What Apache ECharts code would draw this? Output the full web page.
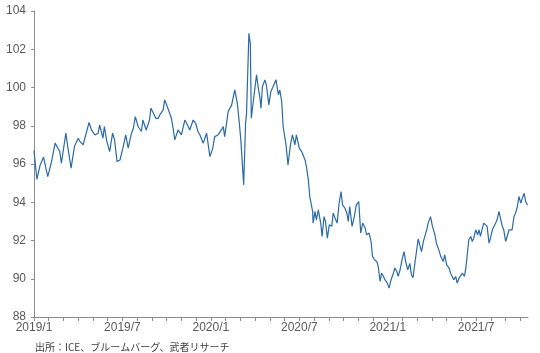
<!DOCTYPE html>
<html>
<head>
<meta charset="utf-8">
<script src="https://cdn.jsdelivr.net/npm/echarts@6/dist/echarts.min.js"></script>
<style>
html,body{margin:0;padding:0;background:#fff;}
#c{width:540px;height:353px;}
</style>
</head>
<body>
<div id="c"></div>
<script>
// Dollar index (ICE), approximate readings from the reference picture
const dates = [
'2019-01-01','2019-01-07','2019-01-14','2019-01-21','2019-01-26','2019-01-30','2019-02-07','2019-02-13','2019-02-16','2019-02-22','2019-02-25',
'2019-03-06','2019-03-10','2019-03-17','2019-03-24','2019-04-01','2019-04-04','2019-04-11','2019-04-14','2019-04-23','2019-04-28',
'2019-05-05','2019-05-12','2019-05-15','2019-05-22','2019-05-25','2019-05-30','2019-06-05','2019-06-11','2019-06-15','2019-06-20','2019-06-26',
'2019-07-02','2019-07-08','2019-07-13','2019-07-20','2019-07-24','2019-07-28','2019-08-03','2019-08-10','2019-08-13','2019-08-20','2019-08-27','2019-08-30',
'2019-09-03','2019-09-09','2019-09-14','2019-09-17','2019-09-24','2019-09-27','2019-10-01','2019-10-04','2019-10-11','2019-10-14','2019-10-18','2019-10-25',
'2019-11-01','2019-11-08','2019-11-11','2019-11-15','2019-11-18','2019-11-25','2019-11-30','2019-12-05','2019-12-09','2019-12-16','2019-12-23','2019-12-30',
'2020-01-05','2020-01-09','2020-01-16','2020-01-23','2020-01-27','2020-01-30','2020-02-06','2020-02-13','2020-02-19','2020-02-24','2020-02-28',
'2020-03-02','2020-03-08','2020-03-12','2020-03-14','2020-03-19','2020-03-22','2020-03-24','2020-04-01','2020-04-04','2020-04-07','2020-04-11','2020-04-13','2020-04-16','2020-04-21','2020-04-24','2020-04-29',
'2020-05-03','2020-05-08','2020-05-14','2020-05-19','2020-05-22','2020-05-26','2020-05-29','2020-06-04','2020-06-08','2020-06-13','2020-06-17','2020-06-22','2020-06-25',
'2020-07-01','2020-07-06','2020-07-13','2020-07-16','2020-07-20','2020-07-23','2020-07-27','2020-07-29','2020-07-30',
'2020-08-03','2020-08-06','2020-08-10','2020-08-15','2020-08-18','2020-08-22','2020-08-25','2020-08-29',
'2020-09-02','2020-09-07','2020-09-10','2020-09-15','2020-09-18','2020-09-22','2020-09-26','2020-09-29',
'2020-10-04','2020-10-08','2020-10-11','2020-10-14','2020-10-19','2020-10-23','2020-10-28',
'2020-11-02','2020-11-06','2020-11-10','2020-11-15','2020-11-18','2020-11-23','2020-11-27','2020-11-30',
'2020-12-04','2020-12-09','2020-12-12','2020-12-16','2020-12-19','2020-12-23','2020-12-26','2020-12-31',
'2021-01-04','2021-01-08','2021-01-13','2021-01-16','2021-01-20','2021-01-23','2021-01-27','2021-01-31',
'2021-02-04','2021-02-07','2021-02-11','2021-02-15','2021-02-18','2021-02-21','2021-02-25','2021-02-28',
'2021-03-03','2021-03-07','2021-03-10','2021-03-14','2021-03-17','2021-03-21','2021-03-24','2021-03-29',
'2021-04-02','2021-04-07','2021-04-10','2021-04-15','2021-04-19','2021-04-24','2021-04-27',
'2021-05-01','2021-05-06','2021-05-09','2021-05-13','2021-05-16','2021-05-20','2021-05-23','2021-05-27','2021-05-31',
'2021-06-03','2021-06-07','2021-06-10','2021-06-13','2021-06-16','2021-06-20','2021-06-23','2021-06-26','2021-06-30',
'2021-07-04','2021-07-07','2021-07-10','2021-07-14','2021-07-17','2021-07-21','2021-07-24','2021-07-28','2021-07-31',
'2021-08-04','2021-08-07','2021-08-11','2021-08-14','2021-08-18','2021-08-21','2021-08-25','2021-08-28',
'2021-09-01','2021-09-04','2021-09-08','2021-09-11','2021-09-14','2021-09-18','2021-09-21','2021-09-25','2021-09-28',
'2021-10-02','2021-10-05','2021-10-09','2021-10-12','2021-10-16'
];
const values = [
96.7,95.20,95.95,96.36,95.78,95.34,96.21,97.09,97.0,96.65,96.04,
97.61,96.91,95.78,96.91,97.35,97.2,97.0,96.9,98.17,97.78,
97.52,97.61,98.04,97.35,97.96,97.2,96.65,97.61,97.26,96.13,96.21,
96.83,97.52,96.83,97.61,97.87,98.48,97.96,97.7,98.30,97.78,98.30,98.92,
98.84,98.39,98.39,98.57,98.83,99.35,99.09,99.17,98.39,97.96,97.26,97.78,
97.52,98.30,98.22,97.96,97.78,98.30,98.13,97.69,97.52,97.09,97.61,96.39,
96.83,97.43,97.52,97.78,97.96,97.43,98.74,99.09,99.87,99.18,98.13,
97.26,94.91,98.13,98.65,102.83,102.3,98.39,100.05,100.66,100.05,99.44,98.92,100.05,100.4,100.13,99.09,
99.78,100.05,100.4,99.61,99.87,99.26,97.96,97.0,95.95,97.0,97.52,97.0,97.52,
96.83,96.65,96.21,95.86,95.17,94.30,93.78,93.52,92.91,
93.52,93.08,93.60,92.91,92.21,93.25,93.0,92.12,
92.82,92.74,93.43,93.08,92.91,93.95,94.56,93.86,
93.69,93.43,93.0,93.78,92.74,93.17,93.86,
94.04,92.39,92.91,92.65,92.30,92.39,91.95,91.16,
90.99,90.90,90.64,89.86,90.30,90.12,89.95,89.77,
89.51,89.95,90.30,90.56,90.38,90.12,90.47,90.99,
91.42,90.90,90.47,90.80,90.20,90.05,90.90,90.99,
92.08,92.10,91.42,91.95,91.86,92.56,92.91,93.25,
92.74,92.30,91.86,91.51,91.16,90.90,91.25,
90.73,90.56,90.30,90.38,89.95,90.12,89.77,90.03,89.95,
90.30,90.12,90.56,90.56,92.04,92.21,91.95,92.12,92.56,
92.30,92.56,92.21,92.65,92.91,92.82,92.74,91.86,92.12,
92.56,92.65,92.91,93.08,93.52,93.17,92.74,92.56,
91.95,91.95,92.56,92.47,92.56,93.25,93.43,93.78,94.30,
93.95,94.21,94.47,94.04,93.86
];
const yTicks = [88,90,92,94,96,98,100,102,104];
const xLabelMonths = [0,6,12,18,24,30];           // 2019/1, 2019/7, ... 2021/7
const xLabelTexts = ['2019/1','2019/7','2020/1','2020/7','2021/1','2021/7'];
const sourceText = '出所：ICE、ブルームバーグ、武者リサーチ';

function monthIndex(s){
  const [y,m,d] = s.split('-').map(Number);
  const dim = new Date(y, m, 0).getDate();
  return (y-2019)*12 + (m-1) + (d-1)/dim;
}
const seriesData = dates.map((d,i)=>[monthIndex(d), values[i]]);
const X_MAX = monthIndex('2021-10-17');
const monthTicks = [];
for (let i=0;i<=Math.floor(X_MAX);i++) monthTicks.push(i);

const chart = echarts.init(document.getElementById('c'), null, {renderer:'canvas'});
chart.setOption({
  animation:false,
  backgroundColor:'#fff',
  grid:{left:34,right:12,top:11,bottom:36,containLabel:false},
  xAxis:{
    type:'value', min:0, max:X_MAX,
    axisLine:{show:true,lineStyle:{color:'#8c8c8c',width:1}},
    axisTick:{show:true,length:4,inside:false,customValues:monthTicks,lineStyle:{color:'#8c8c8c'}},
    axisLabel:{
      customValues:xLabelMonths,
      formatter:(v)=>{const k=xLabelMonths.indexOf(Math.round(v));return k>=0?xLabelTexts[k]:'';},
      color:'#595959',fontSize:12,fontFamily:'Liberation Sans, Arial, sans-serif',margin:5
    },
    splitLine:{show:false}
  },
  yAxis:{
    type:'value', min:yTicks[0], max:yTicks[yTicks.length-1], interval:2,
    axisLine:{show:true,lineStyle:{color:'#8c8c8c',width:1}},
    axisTick:{show:true,length:3,lineStyle:{color:'#8c8c8c'}},
    axisLabel:{color:'#595959',fontSize:12,fontFamily:'Liberation Sans, Arial, sans-serif',margin:8},
    splitLine:{show:false}
  },
  series:[{
    type:'line', data:seriesData, showSymbol:false, symbol:'none',
    lineStyle:{color:'#2a6aa6',width:1.2}, smooth:false
  }],
  graphic:[{
    type:'text', left:35, top:342,
    style:{text:sourceText, fill:'#404040', font:'10px "Noto Sans CJK JP", sans-serif'}
  }]
});
</script>
</body>
</html>
